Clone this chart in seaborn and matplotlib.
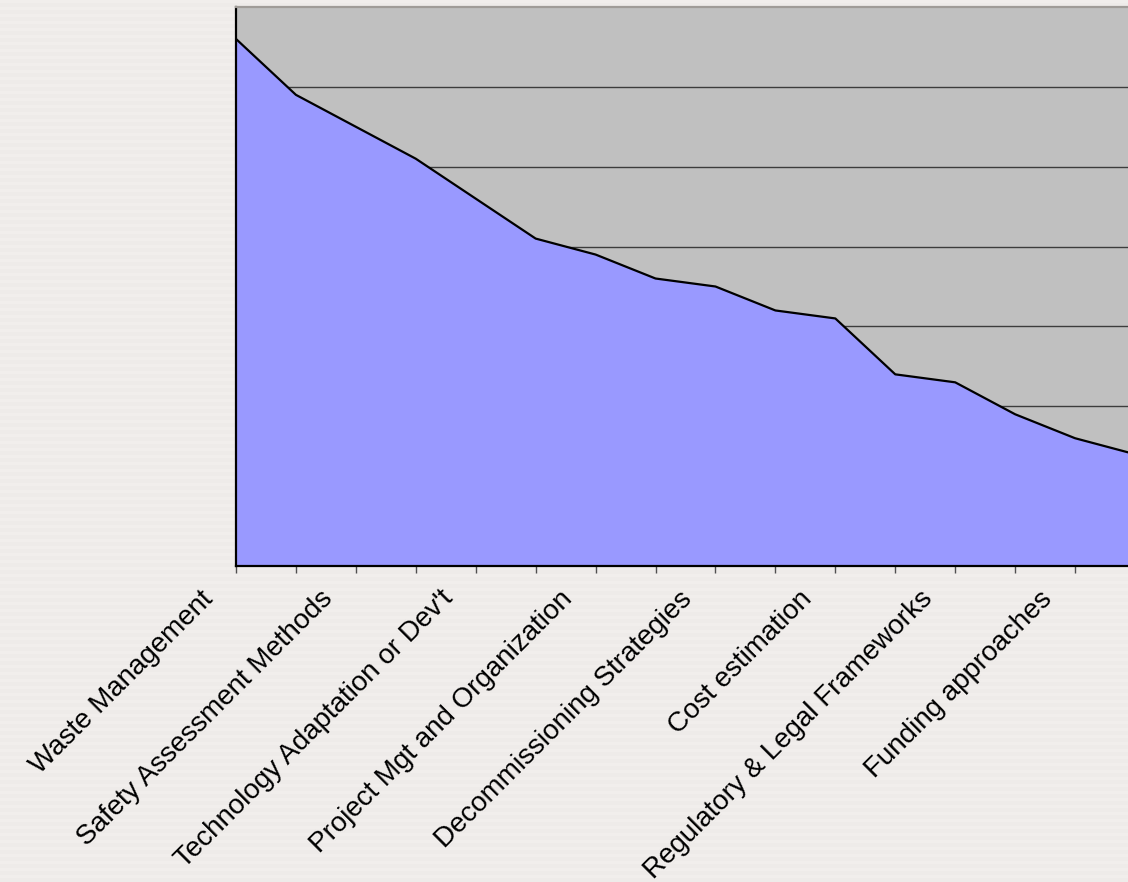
import numpy as np
import pandas as pd
import matplotlib
matplotlib.use("Agg")
import matplotlib.pyplot as plt
import matplotlib.transforms as mtransforms
import seaborn as sns

# Ranked scores for each training topic (one point per category)
scores = [66, 59, 55, 51, 46, 41, 39, 36, 35, 32, 31, 24, 23, 19, 16, 14]
# Category names shown on every second tick
tick_labels = [
    "Waste Management",
    "Safety Assessment Methods",
    "Technology Adaptation or Dev't",
    "Project Mgt and Organization",
    "Decommissioning Strategies",
    "Cost estimation",
    "Regulatory & Legal Frameworks",
    "Funding approaches",
]
gridline_values = [10, 20, 30, 40, 50, 60]

sns.set_theme(style="white")
plt.rcParams["font.family"] = ["Liberation Sans", "DejaVu Sans"]

W, H = 1128, 882
fig = plt.figure(figsize=(W / 100, H / 100), dpi=100)
fig.patch.set_facecolor("#EEEBE8")

# faint horizontal striped backdrop
rows = np.arange(H)
band = np.where((rows % 7) < 3, 0.946, 0.934)
backdrop = np.ones((H, W, 3)) * band[:, None, None]
backdrop[..., 1] -= 0.010
backdrop[..., 2] -= 0.018
fig.figimage(backdrop, xo=0, yo=0, zorder=-10)

ax = fig.add_axes([236 / W, (H - 566) / H, (1135 - 236) / W, 559 / H])
ax.set_facecolor("#C0C0C0")

df = pd.DataFrame({"pos": np.arange(len(scores)), "score": scores})

ax.fill_between(df["pos"], df["score"], 0, color="#9999FF", linewidth=0, zorder=2)
sns.lineplot(data=df, x="pos", y="score", color="black", linewidth=1.6,
             ax=ax, zorder=3, legend=False)

ax.set_xlim(0, len(scores) - 1)
ax.set_ylim(0, 70)
ax.set_xlabel("")
ax.set_ylabel("")

ax.set_yticks(gridline_values)
ax.yaxis.grid(True, color="#3C3C3C", linewidth=1.0)
ax.xaxis.grid(False)
ax.set_axisbelow(True)
ax.tick_params(axis="y", left=False, labelleft=False)

ax.set_xticks(df["pos"])
ax.set_xticklabels([tick_labels[i // 2] if i % 2 == 0 else "" for i in df["pos"]])
ax.tick_params(axis="x", bottom=True, length=5, width=1, color="#505050",
               direction="out", labelsize=20, pad=19.4, labelcolor="black")

shift = mtransforms.ScaledTranslation(-22 / 100, 0, fig.dpi_scale_trans)
for lbl in ax.get_xticklabels():
    lbl.set_rotation(45)
    lbl.set_ha("right")
    lbl.set_va("baseline")
    lbl.set_rotation_mode("anchor")
    lbl.set_transform(lbl.get_transform() + shift)

for side in ("left", "bottom"):
    ax.spines[side].set_color("black")
    ax.spines[side].set_linewidth(1.6)
ax.spines["top"].set_color("#A09C98")
ax.spines["top"].set_linewidth(1.6)
ax.spines["right"].set_visible(False)

fig.savefig("out.png", dpi=100, facecolor=fig.get_facecolor())
